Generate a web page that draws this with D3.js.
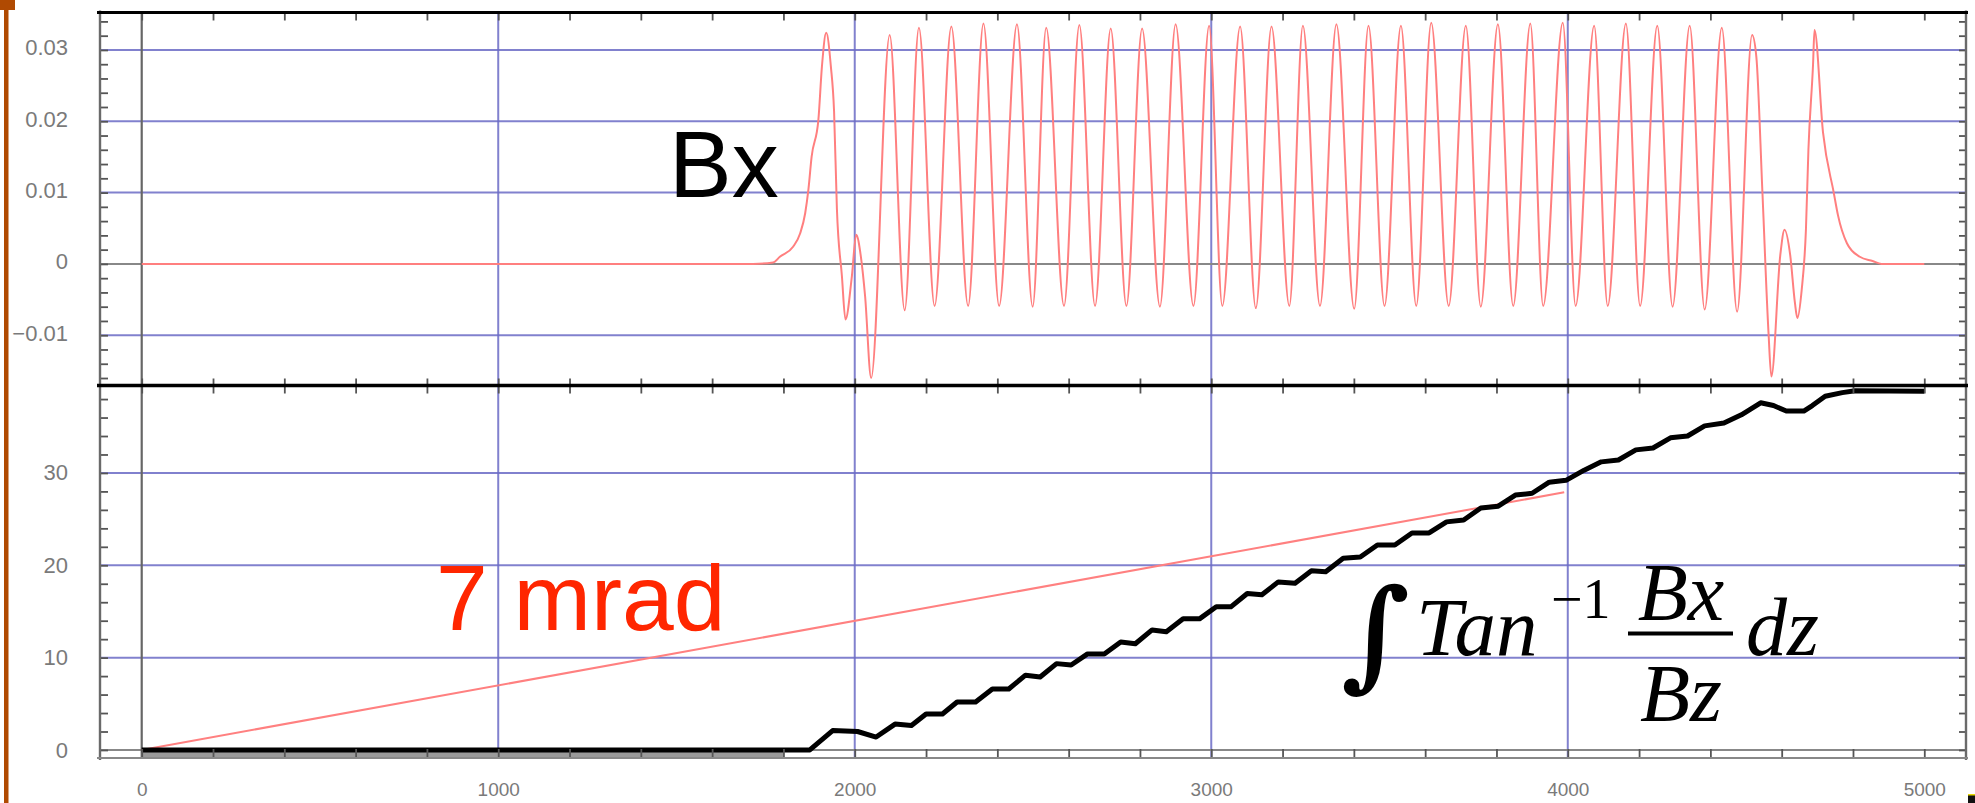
<!DOCTYPE html>
<html><head><meta charset="utf-8">
<script src="https://cdn.jsdelivr.net/npm/d3@7"></script>
<style>
html,body{margin:0;padding:0;background:#fff;}
svg{display:block;}
</style></head>
<body>
<svg id="chart" width="1975" height="803"></svg>
<script>
// ---------------- data ----------------
// Upper panel: Bx versus z
const bxZ = [0, 1715, 1771, 1790, 1827, 1847, 1861, 1870, 1879, 1898, 1908, 1920, 1933, 1942, 1950, 1964, 1974, 1992, 2004, 2017, 2029, 2046,
  2098, 2140, 2180, 2224, 2271, 2318, 2361, 2405, 2455, 2499, 2537, 2587, 2630, 2674, 2718, 2762, 2806, 2856, 2900, 2950,
  2994, 3031, 3081, 3125, 3169, 3219, 3257, 3305, 3351, 3401, 3441, 3486, 3532, 3575, 3617, 3666, 3714, 3756, 3804, 3847,
  3895, 3931, 3986, 4022, 4074, 4112, 4163, 4203, 4251, 4294, 4342, 4384, 4432, 4475, 4517,
  4529, 4546, 4563, 4571, 4596, 4608, 4624, 4637, 4644, 4656, 4668, 4675, 4688, 4692, 4716, 4746, 4758, 4783, 4819, 4855, 4880, 5000];
const bxV = [0, 0, 0.0002, 0.0010, 0.0024, 0.0043, 0.0071, 0.0104, 0.0150, 0.0202, 0.0277, 0.0324, 0.0277, 0.0214, 0.0077, -0.0017, -0.0078, -0.0017, 0.0041, 0.0011, -0.0045, -0.0160,
  0.0321, -0.0065, 0.0331, -0.0059, 0.0333, -0.0059, 0.0337, -0.0059, 0.0336, -0.0060, 0.0331, -0.0059, 0.0335, -0.0059, 0.0330, -0.0059, 0.0330, -0.0060, 0.0336, -0.0059,
  0.0334, -0.0059, 0.0333, -0.0062, 0.0333, -0.0059, 0.0334, -0.0059, 0.0336, -0.0063, 0.0334, -0.0059, 0.0334, -0.0059, 0.0338, -0.0059, 0.0334, -0.0060, 0.0336, -0.0059,
  0.0337, -0.0059, 0.0338, -0.0059, 0.0334, -0.0059, 0.0337, -0.0059, 0.0334, -0.0060, 0.0334, -0.0064, 0.0331, -0.0067, 0.0321,
  0.0290, 0.0100, -0.0096, -0.0158, 0.0012, 0.0048, 0.0012, -0.0054, -0.0076, -0.0037, 0.0048, 0.0160, 0.0280, 0.0328, 0.0184, 0.0100, 0.0068, 0.0029, 0.0010, 0.0004, 0, 0];

// Lower panel: integral of atan(Bx/Bz) dz (black)
const intZ = [0, 1874, 1938, 2008, 2060, 2113, 2159, 2200, 2246, 2287, 2339, 2386, 2432, 2479, 2520, 2566, 2607, 2653, 2700, 2746, 2787,
  2834, 2874, 2921, 2967, 3014, 3055, 3101, 3142, 3188, 3235, 3281, 3321, 3370, 3418, 3466, 3515, 3563, 3611, 3660, 3708,
  3756, 3805, 3853, 3900, 3948, 3995, 4046, 4094, 4142, 4191, 4239, 4288, 4336, 4384, 4438, 4487, 4541, 4577, 4613, 4662,
  4686, 4722, 4770, 4806, 5000];
const intV = [0, 0, 2.1, 2.0, 1.4, 2.8, 2.65, 3.9, 3.9, 5.2, 5.2, 6.6, 6.6, 8.1, 7.9, 9.35, 9.2, 10.4, 10.4, 11.7, 11.5,
  13.0, 12.8, 14.2, 14.2, 15.5, 15.5, 16.95, 16.8, 18.2, 18.05, 19.4, 19.3, 20.76, 20.9, 22.2, 22.2, 23.5, 23.5, 24.7, 24.9,
  26.2, 26.4, 27.6, 27.8, 29.0, 29.2, 30.3, 31.2, 31.4, 32.5, 32.7, 33.8, 34.0, 35.1, 35.4, 36.3, 37.6, 37.3, 36.7, 36.7,
  37.3, 38.3, 38.7, 38.9, 38.85];
// Lower panel: 7 mrad reference line (red)
const mradZ = [0, 3990];
const mradV = [0, 27.9];
// grey shadow under the flat start of the black curve
const shadowZ = [0, 1800];

// ticks / labels
const xTickVals = [0, 1000, 2000, 3000, 4000, 5000];
const xTickLabels = ["0", "1000", "2000", "3000", "4000", "5000"];
const xGridVals = [1000, 2000, 3000, 4000];
const topTickVals = [0.03, 0.02, 0.01, 0, -0.01];
const topTickLabels = ["0.03", "0.02", "0.01", "0", "\u22120.01"];
const topGridVals = [0.03, 0.02, 0.01, -0.01];
const botTickVals = [30, 20, 10, 0];
const botTickLabels = ["30", "20", "10", "0"];
const botGridVals = [30, 20, 10];

const xDomain = [-117, 5117];
const topDomain = [-0.01705, 0.03525];
const botDomain = [-0.87, 39.47];

// ---------------- layout ----------------
const L = 100, R = 1966, T = 12.5, M = 385.5, B = 758;
const svg = d3.select("#chart");
svg.append("rect").attr("width", 1975).attr("height", 803).attr("fill", "#fff");

const x = d3.scaleLinear().domain(xDomain).range([L, R]);
const yT = d3.scaleLinear().domain(topDomain).range([M, T]);
const yB = d3.scaleLinear().domain(botDomain).range([B, M]);

const minorX = d3.range(0, 5001, 200);
const minorTop = d3.range(-16, 35, 2).map(d => d / 1000);
const minorBot = d3.range(0, 40, 2);

const gridCol = "#6c6cc6";
// horizontal gridlines
svg.append("g").selectAll("line").data(topGridVals).join("line")
  .attr("x1", L).attr("x2", R).attr("y1", d => yT(d)).attr("y2", d => yT(d))
  .attr("stroke", gridCol).attr("stroke-width", 2).attr("opacity", 0.85);
svg.append("g").selectAll("line").data(botGridVals).join("line")
  .attr("x1", L).attr("x2", R).attr("y1", d => yB(d)).attr("y2", d => yB(d))
  .attr("stroke", gridCol).attr("stroke-width", 2).attr("opacity", 0.85);
// vertical gridlines
svg.append("g").selectAll("line").data(xGridVals).join("line")
  .attr("x1", d => x(d)).attr("x2", d => x(d)).attr("y1", T).attr("y2", B)
  .attr("stroke", gridCol).attr("stroke-width", 2).attr("opacity", 0.85);
// zero axes
svg.append("line").attr("x1", L).attr("x2", R).attr("y1", yT(0)).attr("y2", yT(0))
  .attr("stroke", "#888").attr("stroke-width", 2);
svg.append("line").attr("x1", L).attr("x2", R).attr("y1", yB(0)).attr("y2", yB(0))
  .attr("stroke", "#888").attr("stroke-width", 2);
svg.append("line").attr("x1", x(0)).attr("x2", x(0)).attr("y1", T).attr("y2", B)
  .attr("stroke", "#666").attr("stroke-width", 2.2);

// clip paths
const defs = svg.append("defs");
defs.append("clipPath").attr("id", "clipT").append("rect").attr("x", L).attr("y", T).attr("width", R - L).attr("height", M - T);
defs.append("clipPath").attr("id", "clipB").append("rect").attr("x", L).attr("y", M).attr("width", R - L).attr("height", B - M);

// Bx curve
const bxData = d3.zip(bxZ, bxV);
svg.append("path").datum(bxData).attr("clip-path", "url(#clipT)")
  .attr("d", d3.line().x(d => x(d[0])).y(d => yT(d[1])).curve(d3.curveMonotoneX))
  .attr("fill", "none").attr("stroke", "#ff7f7f").attr("stroke-width", 2);

// lower panel lines
svg.append("rect").attr("x", x(shadowZ[0])).attr("y", yB(0) + 2)
  .attr("width", x(shadowZ[1]) - x(shadowZ[0])).attr("height", B - yB(0) - 2)
  .attr("fill", "#9a9a9a");
svg.append("path").datum(d3.zip(mradZ, mradV)).attr("clip-path", "url(#clipB)")
  .attr("d", d3.line().x(d => x(d[0])).y(d => yB(d[1])))
  .attr("fill", "none").attr("stroke", "#ff8080").attr("stroke-width", 2);
svg.append("path").datum(d3.zip(intZ, intV)).attr("clip-path", "url(#clipB)")
  .attr("d", d3.line().x(d => x(d[0])).y(d => yB(d[1])))
  .attr("fill", "none").attr("stroke", "#000").attr("stroke-width", 5)
  .attr("stroke-linejoin", "round").attr("stroke-linecap", "butt");

// ---------------- frames and ticks ----------------
function styleTicks(g) {
  g.select(".domain").remove();
  g.selectAll(".tick line").attr("stroke", "#555").attr("stroke-width", 1.8);
}
svg.append("g").attr("transform", `translate(${L},0)`)
  .call(d3.axisLeft(yT).tickValues(minorTop).tickSizeInner(-8).tickSizeOuter(0).tickFormat("")).call(styleTicks);
svg.append("g").attr("transform", `translate(${R},0)`)
  .call(d3.axisRight(yT).tickValues(minorTop).tickSizeInner(-7).tickSizeOuter(0).tickFormat("")).call(styleTicks);
svg.append("g").attr("transform", `translate(${L},0)`)
  .call(d3.axisLeft(yB).tickValues(minorBot).tickSizeInner(-8).tickSizeOuter(0).tickFormat("")).call(styleTicks);
svg.append("g").attr("transform", `translate(${R},0)`)
  .call(d3.axisRight(yB).tickValues(minorBot).tickSizeInner(-7).tickSizeOuter(0).tickFormat("")).call(styleTicks);
svg.append("g").attr("transform", `translate(0,${T})`)
  .call(d3.axisTop(x).tickValues(minorX).tickSizeInner(-8).tickSizeOuter(0).tickFormat("")).call(styleTicks);
svg.append("g").attr("transform", `translate(0,${M})`)
  .call(d3.axisBottom(x).tickValues(minorX).tickSizeInner(-7).tickSizeOuter(0).tickFormat("")).call(styleTicks);
svg.append("g").attr("transform", `translate(0,${M})`)
  .call(d3.axisTop(x).tickValues(minorX).tickSizeInner(-8).tickSizeOuter(0).tickFormat("")).call(styleTicks);
svg.append("g").attr("transform", `translate(0,${B})`)
  .call(d3.axisBottom(x).tickValues(minorX).tickSizeInner(-9).tickSizeOuter(0).tickFormat("")).call(styleTicks);

// frame lines
svg.append("line").attr("x1", L).attr("x2", L).attr("y1", T - 2).attr("y2", B + 2).attr("stroke", "#6a6a6a").attr("stroke-width", 2.4);
svg.append("line").attr("x1", R).attr("x2", R).attr("y1", T - 2).attr("y2", B + 2).attr("stroke", "#6a6a6a").attr("stroke-width", 2.4);
svg.append("line").attr("x1", L - 3).attr("x2", R + 2).attr("y1", T).attr("y2", T).attr("stroke", "#000").attr("stroke-width", 3);
svg.append("line").attr("x1", L - 3).attr("x2", R + 2).attr("y1", M).attr("y2", M).attr("stroke", "#000").attr("stroke-width", 3.5);
svg.append("line").attr("x1", L - 3).attr("x2", R + 2).attr("y1", B).attr("y2", B).attr("stroke", "#888").attr("stroke-width", 2.2);

// ---------------- tick labels ----------------
function styleLabels(g, size) {
  g.select(".domain").remove();
  g.selectAll(".tick line").remove();
  g.selectAll("text").attr("fill", "#7a7a7a").attr("font-family", "Liberation Sans, Arial, sans-serif").attr("font-size", size);
}
svg.append("g").attr("transform", `translate(${L},-2)`)
  .call(d3.axisLeft(yT).tickValues(topTickVals).tickSize(0).tickPadding(32).tickFormat((d, i) => topTickLabels[i]))
  .call(g => styleLabels(g, 22));
svg.append("g").attr("transform", `translate(${L},0)`)
  .call(d3.axisLeft(yB).tickValues(botTickVals).tickSize(0).tickPadding(32).tickFormat((d, i) => botTickLabels[i]))
  .call(g => styleLabels(g, 22));
svg.append("g").attr("transform", `translate(0,${B})`)
  .call(d3.axisBottom(x).tickValues(xTickVals).tickSize(0).tickPadding(25).tickFormat((d, i) => xTickLabels[i]))
  .call(g => styleLabels(g, 19));

// ---------------- annotations ----------------
svg.append("text").attr("x", 669).attr("y", 197).text("Bx")
  .attr("font-family", "Liberation Sans, Arial, sans-serif").attr("font-size", 94).attr("fill", "#000");
svg.append("text").attr("x", 436).attr("y", 630).text("7 mrad")
  .attr("font-family", "Liberation Sans, Arial, sans-serif").attr("font-size", 93).attr("fill", "#ff2600");

const serif = "Liberation Serif, Times New Roman, serif";
const integ = svg.append("text").attr("x", 0).attr("y", 0).text("\u222B")
  .attr("font-family", "DejaVu Serif, serif").attr("font-weight", "bold").attr("font-size", 150).attr("fill", "#000");
const bb = integ.node().getBBox();
const tx = 1341, ty = 562, tw = 69, th = 141;
integ.attr("transform", `translate(${tx},${ty}) scale(${tw / bb.width},${th / bb.height}) translate(${-bb.x},${-bb.y})`);

svg.append("text").attr("x", 1416).attr("y", 655).text("Tan")
  .attr("font-family", serif).attr("font-style", "italic").attr("font-size", 83).attr("fill", "#000");
svg.append("text").attr("x", 1551).attr("y", 618).text("\u22121")
  .attr("font-family", serif).attr("font-size", 56).attr("fill", "#000");
svg.append("line").attr("x1", 1628).attr("x2", 1733).attr("y1", 633.5).attr("y2", 633.5)
  .attr("stroke", "#000").attr("stroke-width", 4);
svg.append("text").attr("x", 1681).attr("y", 620).attr("text-anchor", "middle").text("Bx")
  .attr("font-family", serif).attr("font-style", "italic").attr("font-size", 82).attr("fill", "#000");
svg.append("text").attr("x", 1681).attr("y", 721).attr("text-anchor", "middle").text("Bz")
  .attr("font-family", serif).attr("font-style", "italic").attr("font-size", 82).attr("fill", "#000");
svg.append("text").attr("x", 1746).attr("y", 655).text("dz")
  .attr("font-family", serif).attr("font-style", "italic").attr("font-size", 82).attr("fill", "#000");

// ---------------- page decorations ----------------
svg.append("rect").attr("x", 4).attr("y", 0).attr("width", 4.5).attr("height", 803).attr("fill", "#b04a02");
svg.append("rect").attr("x", 0).attr("y", 0).attr("width", 15).attr("height", 10).attr("fill", "#b04a02");
svg.append("rect").attr("x", 1968).attr("y", 795).attr("width", 7).attr("height", 8).attr("fill", "#111");
svg.append("rect").attr("x", 1968).attr("y", 794).attr("width", 7).attr("height", 1.5).attr("fill", "#e8d800");
</script>
</body></html>
